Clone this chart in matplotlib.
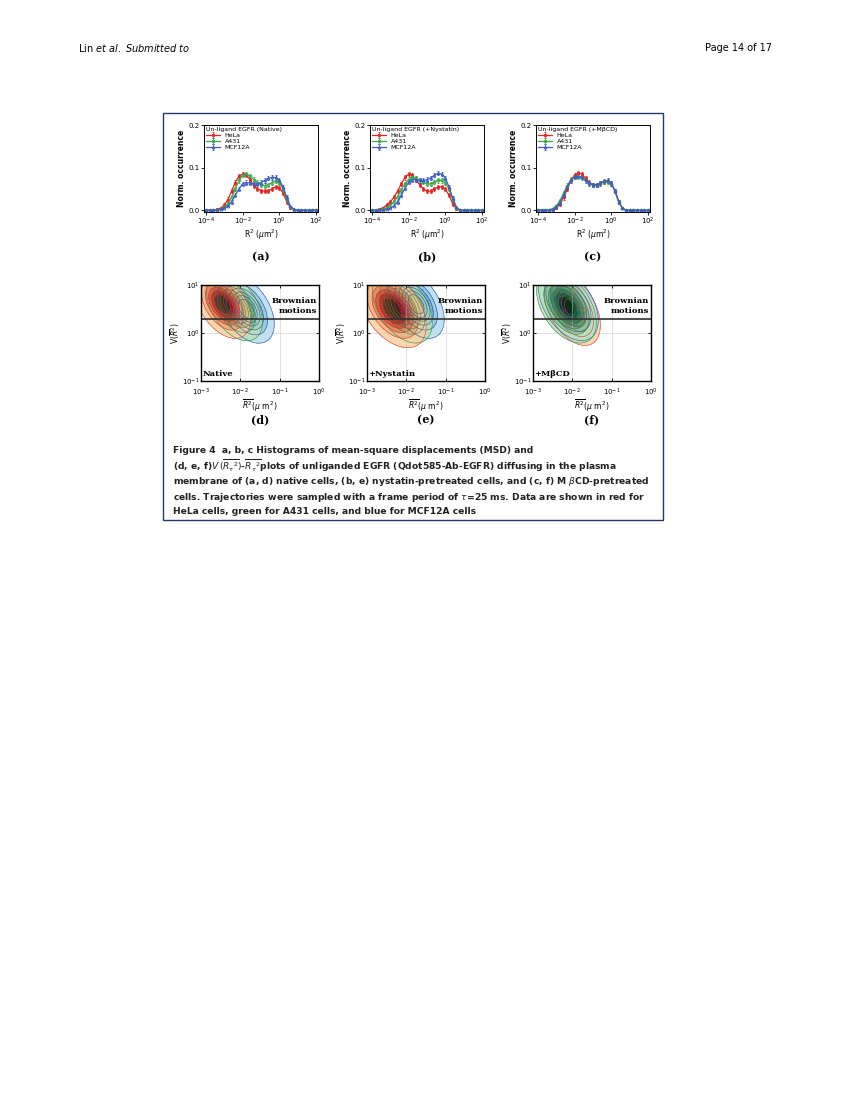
import numpy as np
import matplotlib
matplotlib.use("Agg")
import matplotlib.pyplot as plt
from matplotlib.colors import LinearSegmentedColormap
from matplotlib.patches import Rectangle

# histogram bins: log10(R^2) from -4 to 2, 5 bins per decade
log_r2 = np.linspace(-4, 2, 31)

def pad(v):
    return v + [0] * (31 - len(v))

hela_a = pad([0, 0, 0, 0.002, 0.005, 0.012, 0.025, 0.045, 0.065, 0.08, 0.085, 0.083, 0.072, 0.058, 0.05, 0.046, 0.045, 0.046, 0.05, 0.055, 0.053, 0.04, 0.02, 0.006, 0.001])
a431_a = pad([0, 0, 0, 0.001, 0.003, 0.007, 0.015, 0.03, 0.05, 0.07, 0.082, 0.085, 0.08, 0.072, 0.065, 0.06, 0.058, 0.06, 0.065, 0.068, 0.065, 0.05, 0.025, 0.008, 0.001])
mcf_a = pad([0, 0, 0, 0, 0.002, 0.005, 0.01, 0.02, 0.035, 0.05, 0.062, 0.065, 0.064, 0.062, 0.062, 0.065, 0.07, 0.075, 0.077, 0.077, 0.07, 0.055, 0.03, 0.01, 0.002])

hela_b = pad([0, 0, 0.002, 0.006, 0.012, 0.02, 0.03, 0.045, 0.062, 0.077, 0.085, 0.083, 0.072, 0.06, 0.05, 0.045, 0.045, 0.05, 0.055, 0.055, 0.05, 0.035, 0.015, 0.004])
a431_b = pad([0, 0, 0, 0.002, 0.006, 0.012, 0.02, 0.032, 0.048, 0.062, 0.072, 0.078, 0.075, 0.07, 0.066, 0.062, 0.062, 0.066, 0.07, 0.07, 0.065, 0.05, 0.025, 0.006])
mcf_b = pad([0, 0, 0, 0, 0.002, 0.005, 0.01, 0.02, 0.035, 0.052, 0.066, 0.072, 0.072, 0.07, 0.07, 0.072, 0.076, 0.082, 0.087, 0.085, 0.075, 0.055, 0.028, 0.008])

hela_c = pad([0, 0, 0, 0, 0.001, 0.005, 0.015, 0.03, 0.05, 0.07, 0.083, 0.088, 0.085, 0.075, 0.065, 0.06, 0.06, 0.063, 0.067, 0.068, 0.063, 0.045, 0.02, 0.005])
a431_c = pad([0, 0, 0, 0.001, 0.004, 0.01, 0.022, 0.04, 0.058, 0.072, 0.078, 0.078, 0.075, 0.07, 0.064, 0.06, 0.06, 0.063, 0.067, 0.067, 0.062, 0.045, 0.02, 0.005])
mcf_c = pad([0, 0, 0, 0, 0.002, 0.007, 0.018, 0.035, 0.055, 0.07, 0.078, 0.08, 0.078, 0.07, 0.063, 0.06, 0.06, 0.064, 0.068, 0.07, 0.063, 0.045, 0.02, 0.005])

hist_titles = ["Un-ligand EGFR (Native)", "Un-ligand EGFR (+Nystatin)", "Un-ligand EGFR (+M\u03b2CD)"]
hist_data = [(hela_a, a431_a, mcf_a), (hela_b, a431_b, mcf_b), (hela_c, a431_c, mcf_c)]
cell_lines = ["HeLa", "A431", "MCF12A"]

# contour blobs: (log10 mean R^2, log10 V, width x, width y) per cell line
blobs_native = [(-2.45, 0.6, 0.3, 0.3), (-2.15, 0.55, 0.3, 0.3), (-1.85, 0.5, 0.3, 0.3)]
blobs_nyst = [(-2.35, 0.5, 0.36, 0.34), (-2.1, 0.55, 0.32, 0.32), (-1.75, 0.6, 0.3, 0.3)]
blobs_mbcd = [(-2.0, 0.5, 0.3, 0.32), (-2.15, 0.55, 0.32, 0.32), (-2.1, 0.6, 0.32, 0.32)]
contour_labels = ["Native", "+Nystatin", "+M\u03b2CD"]

fig = plt.figure(figsize=(8.5, 11), dpi=100)
W, H = 850, 1100

def ax_px(x0, y0, x1, y1):
    return fig.add_axes([x0 / W, 1 - y1 / H, (x1 - x0) / W, (y1 - y0) / H])

fig.text(78 / W, 1 - 48 / H, "Lin $\\it{et\\ al.}$ $\\it{Submitted\\ to}$", fontsize=7, va="center")
fig.text(772 / W, 1 - 48 / H, "Page 14 of 17", fontsize=7, va="center", ha="right")
fig.patches.append(Rectangle((163 / W, 1 - 520 / H), 500 / W, 407 / H, transform=fig.transFigure,
                             fill=False, edgecolor="#1f3a6e", lw=1.0))

colors = ["#e8231f", "#3aa64a", "#3c5cc8"]
markers = ["s", "o", "^"]
hist_x = [204, 370, 536]
for i in range(3):
    ax = ax_px(hist_x[i], 125, hist_x[i] + 114, 212)
    for j in range(3):
        y = np.array(hist_data[i][j])
        err = np.where(y > 0.01, 0.005, 0)
        ax.errorbar(10 ** log_r2, y, yerr=err, color=colors[j], marker=markers[j], ms=2.0, lw=0.9,
                    mfc=colors[j] if j == 0 else "none", mew=0.6, elinewidth=0.5, capsize=0.8,
                    label=cell_lines[j])
    ax.set_xscale("log")
    ax.set_xlim(10 ** -4.1, 10 ** 2.1)
    ax.set_ylim(-0.004, 0.2)
    ax.set_yticks([0, 0.1, 0.2])
    ax.set_yticklabels(["0.0", "0.1", "0.2"])
    ax.set_xticks([1e-4, 1e-2, 1, 1e2])
    ax.tick_params(labelsize=5, length=2, width=0.6, pad=1)
    ax.tick_params(which="minor", length=1, width=0.4)
    for s in ax.spines.values():
        s.set_linewidth(0.7)
    ax.set_ylabel("Norm. occurrence", fontsize=5.5, fontweight="bold", labelpad=2)
    ax.set_xlabel("R$^2$ ($\\mu$m$^2$)", fontsize=5.5, labelpad=0)
    leg = ax.legend(title=hist_titles[i], fontsize=4.5, title_fontsize=4.5, loc="upper left",
                    frameon=False, borderaxespad=0.2, handlelength=2.2, labelspacing=0.1,
                    borderpad=0.1)
    leg._legend_box.align = "left"
    fig.text((hist_x[i] + 57) / W, 1 - 257 / H, "(" + "abc"[i] + ")", fontsize=8, fontweight="bold",
             family="DejaVu Serif", ha="center", va="center")

cmaps = [LinearSegmentedColormap.from_list("r", ["#fde0b0", "#f08a50", "#d01010", "#300000"]),
         LinearSegmentedColormap.from_list("g", ["#d0ecc8", "#60b870", "#107030", "#001000"]),
         LinearSegmentedColormap.from_list("b", ["#c8e8f6", "#60a8d0", "#1050a0", "#000820"])]
line_cols = ["#d04040", "#309040", "#3050b0"]
gx, gy = np.meshgrid(np.linspace(-3, 0, 200), np.linspace(-1, 1, 200))
cont_x = [201, 367, 533]
rho = 0.45
for i, blobs in enumerate([blobs_native, blobs_nyst, blobs_mbcd]):
    ax = ax_px(cont_x[i], 285, cont_x[i] + 118, 381)
    order = [2, 1, 0] if i < 2 else [0, 2, 1]
    for j in order:
        cx, cy, sx, sy = blobs[j]
        u = (gx - cx) / sx
        v = (gy - cy) / sy
        z = np.exp(-0.5 * (u ** 2 + v ** 2 + 2 * rho * u * v) / (1 - rho ** 2))
        ax.contourf(10 ** gx, 10 ** gy, z, levels=[0.06, 0.2, 0.35, 0.5, 0.65, 0.8, 1.01],
                    cmap=cmaps[j], alpha=0.8)
        ax.contour(10 ** gx, 10 ** gy, z, levels=[0.06, 0.2, 0.35, 0.5, 0.65, 0.8],
                   colors=line_cols[j], linewidths=0.4)
    ax.set_xscale("log")
    ax.set_yscale("log")
    ax.set_xlim(1e-3, 1)
    ax.set_ylim(0.1, 10)
    ax.axhline(2, color="#303030", lw=1.2)
    ax.grid(True, color="#cccccc", lw=0.4)
    ax.minorticks_off()
    ax.tick_params(labelsize=5, length=2, width=0.6, pad=1, right=True, top=True, direction="in")
    ax.tick_params(axis="x", pad=4)
    for s in ax.spines.values():
        s.set_linewidth(1.0)
    ax.text(0.98, 0.69, "Brownian\nmotions", transform=ax.transAxes, ha="right", va="bottom",
            fontsize=6, fontweight="bold", family="DejaVu Serif", linespacing=1.3)
    ax.text(0.01, 0.03, contour_labels[i], transform=ax.transAxes, ha="left", va="bottom",
            fontsize=6, fontweight="bold", family="DejaVu Serif")
    ax.set_ylabel("V($\\overline{R}^2$)", fontsize=5.5, labelpad=0)
    ax.set_xlabel("$\\overline{R^2}$($\\mu$ m$^2$)", fontsize=5.5, labelpad=0)
    fig.text((cont_x[i] + 59) / W, 1 - 420 / H, "(" + "def"[i] + ")", fontsize=8, fontweight="bold",
             family="DejaVu Serif", ha="center", va="center")

caption = [
    "Figure 4  a, b, c Histograms of mean-square displacements (MSD) and",
    "(d, e, f)$V\\,(\\overline{R_\\tau{}^2})$-$\\overline{R_\\tau{}^2}$plots of unliganded EGFR (Qdot585-Ab-EGFR) diffusing in the plasma",
    "membrane of (a, d) native cells, (b, e) nystatin-pretreated cells, and (c, f) M $\\beta$CD-pretreated",
    "cells. Trajectories were sampled with a frame period of $\\tau$=25 ms. Data are shown in red for",
    "HeLa cells, green for A431 cells, and blue for MCF12A cells",
]
cap_y = [450, 466, 482, 497, 512]
for line, y in zip(caption, cap_y):
    fig.text(173 / W, 1 - y / H, line, fontsize=6.6, fontweight="bold", va="center", color="#202020")

fig.savefig("out.png", dpi=100)
